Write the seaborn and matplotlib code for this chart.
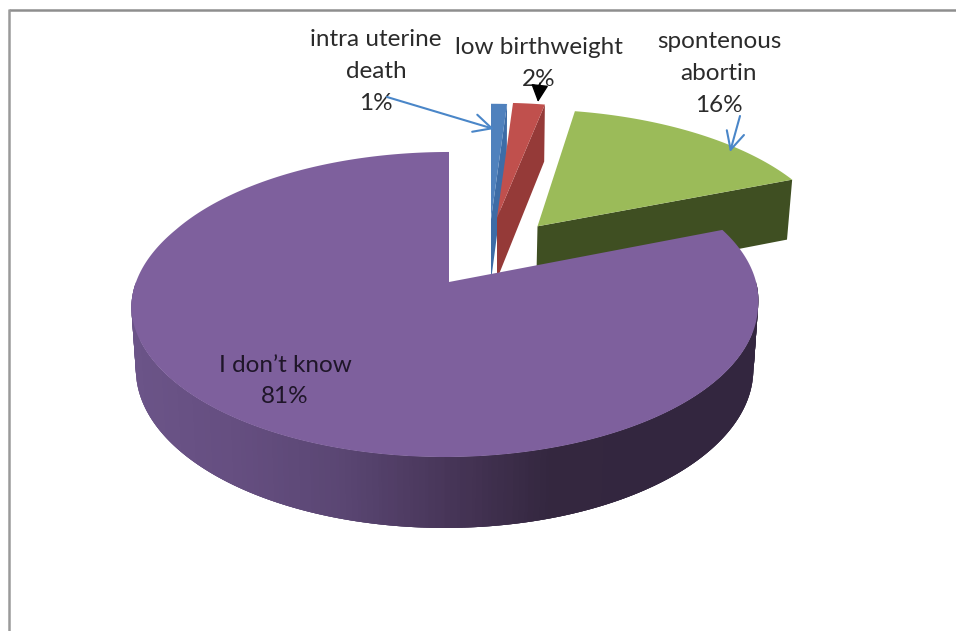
import numpy as np
import matplotlib
matplotlib.use("Agg")
import matplotlib.pyplot as plt
import seaborn as sns

# Causes reported by respondents, in percent, clockwise from twelve o'clock
causes = ["intra uterine\ndeath", "low birthweight", "spontenous\nabortin", "I don\u2019t know"]
percent = [1, 2, 16, 81]

top_colors = ["#4F81BD", "#C0504D", "#9BBB59", "#7E609D"]
side_colors = ["#3D6CA6", "#953A38", "#3F4F22", "#33263F"]

# Slice displacement: (along x, along depth) on the pie's plane, plus a sideways nudge in pixels
explode_plane = [(0.0, -0.45), (0.0, -0.46), (0.309, -0.395), (0.0, 0.0)]
explode_nudge = [42, 48, -2, 0]

# Perspective of the pie's plane
CX, CY = 449.0, 282.0
RX, RY = 310.0, 149.2
PERSP = 0.1475

sns.set_theme(style="white")
plt.rcParams["font.family"] = ["Lato", "DejaVu Sans"]

fig, ax = plt.subplots(figsize=(9.56, 6.31), dpi=100)
fig.subplots_adjust(0, 0, 1, 1)
ax.set_xlim(0, 956)
ax.set_ylim(631, 0)
ax.axis("off")


def project(frac, index, radius=1.0):
    """Screen position of a point on a slice's top face, frac being the share clockwise from the top."""
    theta = 2 * np.pi * np.asarray(frac, dtype=float)
    ou, ov = explode_plane[index]
    u = radius * np.sin(theta) + ou
    v = -radius * np.cos(theta) + ov
    s = 1.0 / (1.0 - PERSP * v)
    x = CX + explode_nudge[index] + RX * u * s
    # The rim of the main slice leans slightly left towards the viewer
    if index == 3 and radius > 0:
        x = x - 8.0 * np.clip(v + 0.37, 0, 0.55)
    return x, CY + RY * v * s, s


def drop(x, y, s, index):
    """Matching point on the slice's lower face."""
    origin = CX + explode_nudge[index]
    if index == 3:
        origin -= 4.0
    return origin + (x - origin) * 0.985, y + 24 + 40 * s


shares = np.asarray(percent, dtype=float) / sum(percent)
edges = np.concatenate([[0], np.cumsum(shares)])

# The lowest slice is last so that it hides the foot of the others
for i in range(4):
    start, end = edges[i], edges[i + 1]
    arc = np.linspace(start, end, max(int(shares[i] * 720), 12))

    if i == 3:
        # Rim of the large slice, shaded from left to right; strips overlap to avoid seams
        rim = np.linspace(0.25, 0.75, 361)
        x, y, s = project(rim, i)
        xb, yb = drop(x, y, s, i)
        ramp = sns.blend_palette(["#6B5488", "#654E80", "#5A4673", "#483659",
                                  "#34273F", "#33263F", "#33263F"], 120)
        for j in range(len(rim) - 3):
            pos = np.clip((x[j] - 131) / 627, 0, 1)
            shade = ramp[int(pos * 119)]
            ax.fill([x[j], x[j + 3], xb[j + 3], xb[j]], [y[j], y[j + 3], yb[j + 3], yb[j]],
                    color=shade, lw=0)
    else:
        # Cut face on the clockwise edge
        xa, ya, sa = project(end, i, radius=0.0)
        xo, yo, so = project(end, i)
        xa2, ya2 = drop(xa, ya, sa, i)
        xo2, yo2 = drop(xo, yo, so, i)
        ax.fill([xa, xo, xo2, xa2], [ya, yo, yo2, ya2], color=side_colors[i], lw=0)

    # Top face
    x, y, _ = project(arc, i)
    xc, yc, _ = project(start, i, radius=0.0)
    ax.fill(np.r_[xc, x], np.r_[yc, y], color=top_colors[i], lw=0)

# Picture frame, top and left only
ax.plot([9, 956], [9.5, 9.5], color="#8E8E8E", lw=1.8, solid_capstyle="butt")
ax.plot([9.5, 9.5], [9, 631], color="#9A9A9A", lw=1.8, solid_capstyle="butt")

# Data labels
label_spots = [(376, 72), (539, 63), (719, 73), (285, 381)]
line_gap = [32, 32, 32, 31]
for name, pct, (lx, ly), gap in zip(causes, percent, label_spots, line_gap):
    lines = name.split("\n") + [f"{pct}%"]
    first = ly - gap * (len(lines) - 1) / 2
    color = "#1F1629" if pct == 81 else "#2B2B2B"
    for k, line in enumerate(lines):
        ax.text(lx, first + k * gap, line, ha="center", va="center", fontsize=17.5, color=color)

# Leader arrows
ax.annotate("", xy=(494, 129), xytext=(387, 97),
            arrowprops=dict(arrowstyle="->", color="#4A86C8", lw=1.5, mutation_scale=32,
                            shrinkA=0, shrinkB=0))
ax.annotate("", xy=(730, 152), xytext=(740, 116),
            arrowprops=dict(arrowstyle="->", color="#4A86C8", lw=1.5, mutation_scale=32,
                            shrinkA=0, shrinkB=0))
ax.annotate("", xy=(538, 102), xytext=(540, 83),
            arrowprops=dict(arrowstyle="-|>", color="black", lw=1.0, mutation_scale=27,
                            shrinkA=0, shrinkB=0))

fig.savefig("out.png", dpi=100, facecolor="white")
